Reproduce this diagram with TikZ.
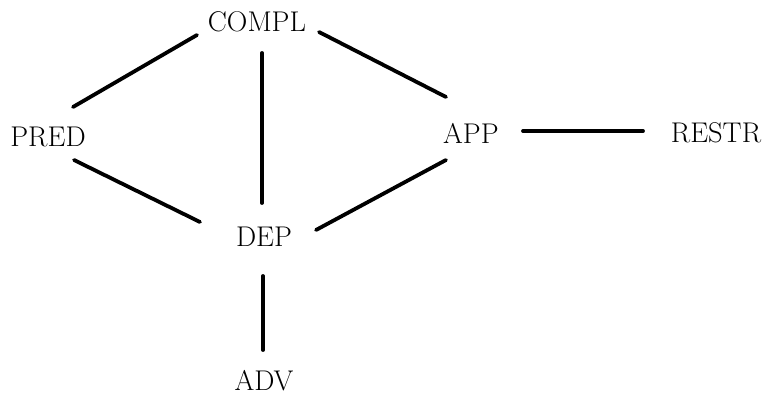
\documentclass[tikz,border=0pt]{standalone}
\usetikzlibrary{calc}
\tikzset{
  lbl/.style={inner sep=0pt, font=\fontsize{28.5}{32}\selectfont},
  link/.style={line width=3.8pt, line cap=round}
}
\begin{document}
\begin{tikzpicture}[x=1pt,y=-1pt]
\useasboundingbox (0,0) rectangle (765,395);
\node[lbl] (COMPL) at (257,22) {COMPL};
\node[lbl] (PRED) at (48,137) {PRED};
\node[lbl] (APP) at (471,133) {APP};
\node[lbl] (RESTR) at (716,133) {RESTR};
\node[lbl] (DEP) at (264,237) {DEP};
\node[lbl] (ADV) at (264,381) {ADV};
\draw[link] ($(COMPL)+(-60,13)$) -- ($(PRED)+(25,-30)$);
\draw[link] ($(COMPL)+(62,10)$) -- ($(APP)+(-25,-36)$);
\draw[link] ($(COMPL)+(5,31)$) -- ($(DEP)+(-2,-34)$);
\draw[link] ($(PRED)+(26,23)$) -- ($(DEP)+(-64,-15)$);
\draw[link] ($(APP)+(-25,27)$) -- ($(DEP)+(52,-7)$);
\draw[link] ($(APP)+(52,-2)$) -- ($(RESTR)+(-73,-2)$);
\draw[link] ($(DEP)+(-1,39)$) -- ($(ADV)+(-1,-31)$);
\end{tikzpicture}
\end{document}
